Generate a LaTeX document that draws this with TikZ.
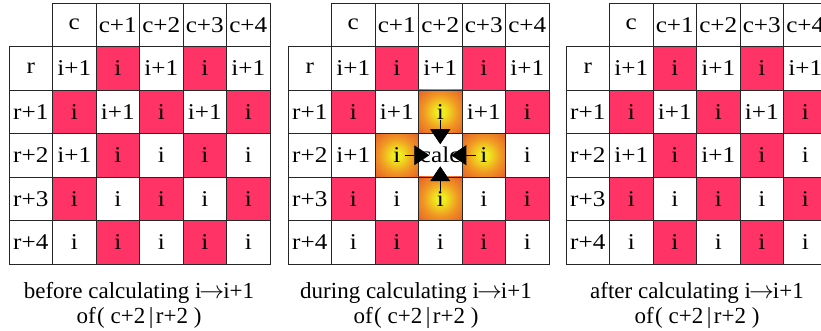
\documentclass[tikz,border=0pt]{standalone}
\usepackage{fontspec}
\setmainfont{Liberation Serif}
\newfontfamily\cellfamily{Liberation Serif}[FakeStretch=1.12]
\usepackage{tikz}
\usetikzlibrary{arrows.meta}
\definecolor{hotred}{RGB}{255,51,102}
\definecolor{glowin}{RGB}{240,236,30}
\definecolor{glowmid}{RGB}{240,150,35}
\definecolor{glowout}{RGB}{226,78,42}
\definecolor{glowedge}{RGB}{215,62,45}
\pgfdeclareradialshading{glowshade}{\pgfpoint{0bp}{0bp}}{color(0bp)=(glowin); color(5bp)=(glowin); color(20bp)=(glowmid); color(40bp)=(glowout); color(72bp)=(glowedge)}
\newcommand\cellfont{\cellfamily\fontsize{22.5}{27}\selectfont}

\begin{document}
\begin{tikzpicture}[x=1pt,y=-1pt,
  cell/.style={draw=black!85,line width=0.8pt,minimum width=43.5pt,minimum height=43.5pt,inner sep=0pt,font=\cellfont},
  look/.code={\ifcase#1\relax\pgfkeysalso{cell}\or\pgfkeysalso{cell,fill=hotred}\or\pgfkeysalso{cell,shading=glowshade}\fi},
  caption/.style={align=center,inner sep=0pt,anchor=north,font=\fontsize{23}{25}\selectfont},
  arrow/.style={-{Triangle[length=15pt,width=20pt]},line width=0.7pt,shorten <=8pt,shorten >=11pt}
]
  \useasboundingbox (0,0) rectangle (821,331);

  % three grids: before, during, after
  \foreach \g/\x/\ctr in {1/9/i,2/288/calc,3/566/i+1} {
    \foreach \h [count=\j] in {c,c+1,c+2,c+3,c+4}
      \node[cell] (g\g-0-\j) at (\x+43.5*\j+21.75,24.75) {\h};
    \foreach \k/\row in {1/{r,i+1,i,i+1,i,i+1},2/{r+1,i,i+1,i,i+1,i},3/{r+2,i+1,i,\ctr,i,i},4/{r+3,i,i,i,i,i},5/{r+4,i,i,i,i,i}}
      \foreach \v [count=\n from 0] in \row {
        \pgfmathtruncatemacro\kind{\n==0 ? 0 : ((\g==2)*(abs(\k-3)+abs(\n-3)==1) ? 2 : mod(\k+\n,2))}
        \node[look=\kind] (g\g-\k-\n) at (\x+43.5*\n+21.75,3+43.5*\k+21.75) {\v};
      }
  }

  \foreach \a in {2-3,3-2,3-4,4-3}
    \draw[arrow] (g2-\a.center) -- (g2-3-3.center);

  \node[caption] (cap1) at (139,282)
    {before calculating i\kern-2pt$\rightarrow$\kern-1pt i+1\\of\kern1.5pt( c+2\kern3.5pt|\kern2.5pt r+2 )};
  \node[caption] (cap2) at (416,282)
    {during calculating i\kern-2pt$\rightarrow$\kern-1pt i+1\\of\kern1.5pt( c+2\kern3.5pt|\kern2.5pt r+2 )};
  \node[caption] (cap3) at (697,282)
    {after calculating i\kern-2pt$\rightarrow$\kern-1pt i+1\\of\kern1.5pt( c+2\kern3.5pt|\kern2.5pt r+2 )};
\end{tikzpicture}
\end{document}
